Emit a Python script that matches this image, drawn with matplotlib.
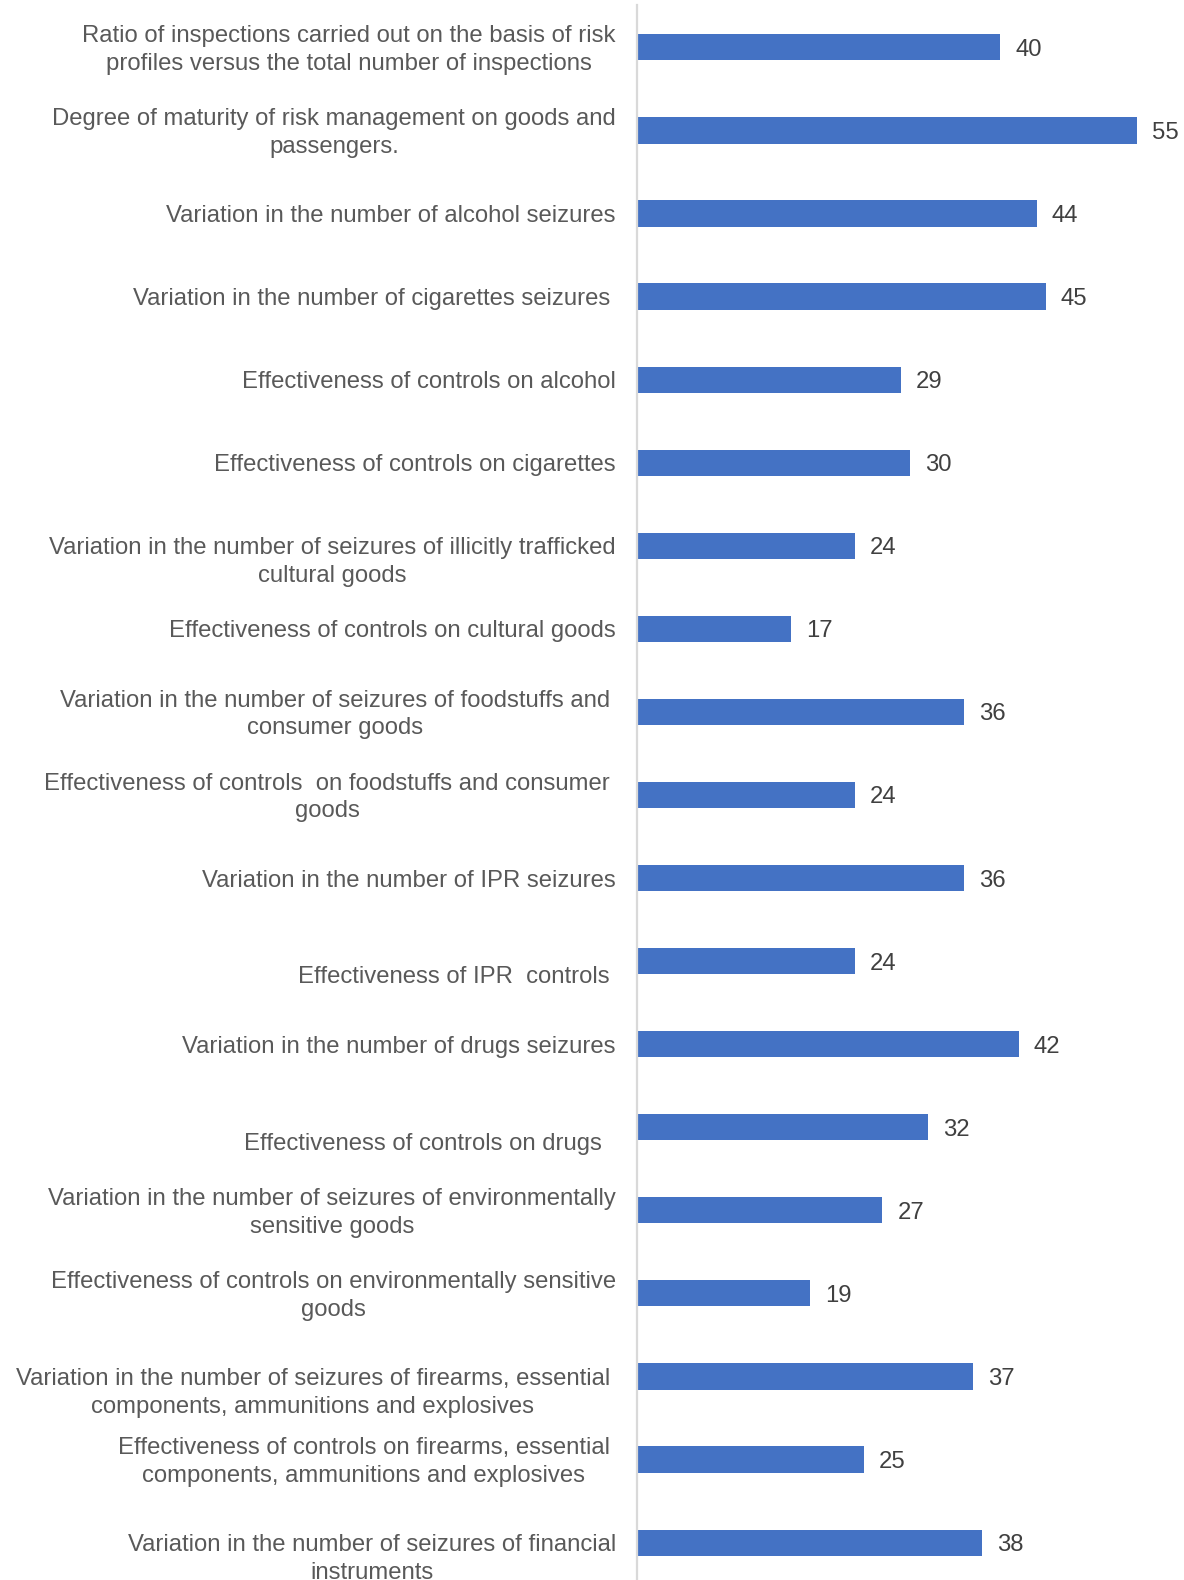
import matplotlib
matplotlib.use("Agg")
import matplotlib.pyplot as plt

plt.rcParams["font.family"] = ["Liberation Sans", "DejaVu Sans"]

# Indicator names (top to bottom) and scores
categories = [
    "Ratio of inspections carried out on the basis of risk\nprofiles versus the total number of inspections",
    "Degree of maturity of risk management on goods and\npassengers.",
    "Variation in the number of alcohol seizures",
    "Variation in the number of cigarettes seizures",
    "Effectiveness of controls on alcohol",
    "Effectiveness of controls on cigarettes",
    "Variation in the number of seizures of illicitly trafficked\ncultural goods",
    "Effectiveness of controls on cultural goods",
    "Variation in the number of seizures of foodstuffs and\nconsumer goods",
    "Effectiveness of controls  on foodstuffs and consumer\ngoods",
    "Variation in the number of IPR seizures",
    "Effectiveness of IPR  controls",
    "Variation in the number of drugs seizures",
    "Effectiveness of controls on drugs",
    "Variation in the number of seizures of environmentally\nsensitive goods",
    "Effectiveness of controls on environmentally sensitive\ngoods",
    "Variation in the number of seizures of firearms, essential\ncomponents, ammunitions and explosives",
    "Effectiveness of controls on firearms, essential\ncomponents, ammunitions and explosives",
    "Variation in the number of seizures of financial\ninstruments",
]
values = [40, 55, 44, 45, 29, 30, 24, 17, 36, 24, 36, 24, 42, 32, 27, 19, 37, 25, 38]

# Label placement tweaks (pixel offsets from the axis line / bar centre)
label_dx = [-21, -21, -21, -27, -21, -21, -21, -21, -27, -27,
            -21, -27, -21, -35, -21, -21, -27, -27, -21]
label_dy = [0, 0, 0, 0, 0, 0, -14, 0, 0, 0,
            0, -13, 0, -14, 0, 0, -14, 0, -14]
TEXT_DY = -2.5

BAR_COLOR = "#4472C4"
LABEL_COLOR = "#595959"
VALUE_COLOR = "#404040"
FS = 17.2

W, H, DPI = 1184, 1580, 100
fig = plt.figure(figsize=(W / DPI, H / DPI), dpi=DPI)
left = 637 / W
top_gap = 5 / H
ax = fig.add_axes([left, 0, 1 - left, 1 - top_gap])

ypos = list(range(len(values)))
ax.barh(ypos, values, height=0.315, color=BAR_COLOR, zorder=2)

ax.set_xlim(0, 60.2)
ax.set_ylim(18.45, -0.51)

for s in ["top", "right", "bottom"]:
    ax.spines[s].set_visible(False)
ax.spines["left"].set_color("#D9D9D9")
ax.spines["left"].set_linewidth(1.6)
ax.set_xticks([])
ax.set_yticks([])

for y, (cat, v, dx, dy) in enumerate(zip(categories, values, label_dx, label_dy)):
    ax.annotate(cat, xy=(0, y), xytext=(dx, dy + TEXT_DY), textcoords="offset pixels",
                ha="right", va="center", multialignment="center",
                linespacing=1.34, fontsize=FS, color=LABEL_COLOR,
                annotation_clip=False)
    ax.annotate(f"{v}", xy=(v, y), xytext=(15, TEXT_DY), textcoords="offset pixels",
                ha="left", va="center", fontsize=FS, color=VALUE_COLOR,
                annotation_clip=False)

fig.savefig("out.png", dpi=DPI)
